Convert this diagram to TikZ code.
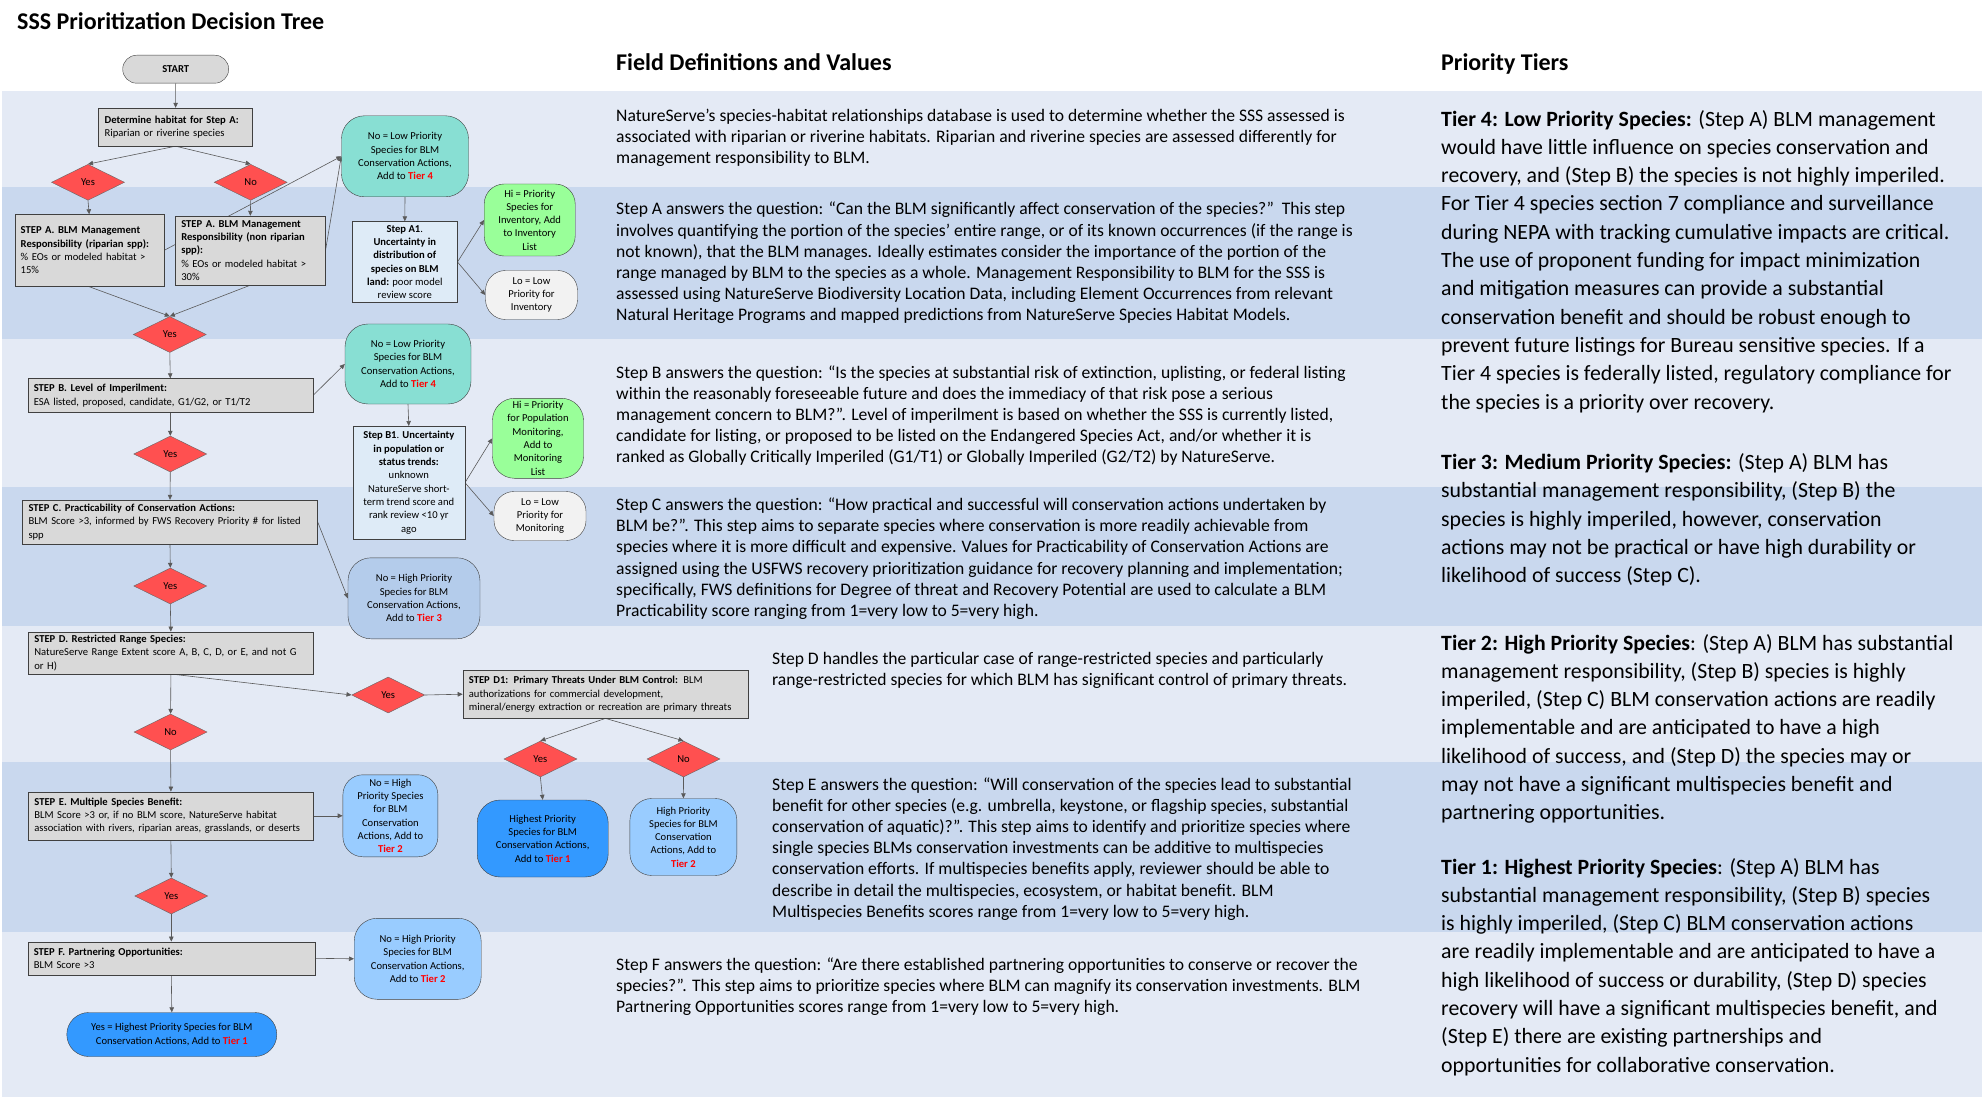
\documentclass[tikz,border=0pt]{standalone}
\usepackage{fontspec}
\setmainfont{Carlito}
\usetikzlibrary{positioning, shapes.geometric, arrows.meta, backgrounds}

\definecolor{bandlt}{HTML}{E4EAF5}
\definecolor{banddk}{HTML}{C9D8EE}
\definecolor{boxgray}{HTML}{D9D9D9}
\definecolor{edgegray}{HTML}{404040}
\definecolor{linegray}{HTML}{5A5A5A}
\definecolor{diared}{HTML}{FF5050}
\definecolor{lowteal}{HTML}{88DFD3}
\definecolor{uncblue}{HTML}{DEEBF7}
\definecolor{higreen}{HTML}{99FF99}
\definecolor{logray}{HTML}{F2F2F2}
\definecolor{medblue}{HTML}{B4CCEB}
\definecolor{highblue}{HTML}{99CCFF}
\definecolor{topblue}{HTML}{3399FF}
\definecolor{tierred}{HTML}{FF0000}

\newcommand{\tiertag}[1]{\textcolor{tierred}{\textbf{#1}}}

\begin{document}
\begin{tikzpicture}[x=1pt, y=-1pt,
  font=\fontsize{10.6}{13.3}\selectfont,
  stepbox/.style={draw=edgegray, fill=boxgray, align=left, inner xsep=6pt, inner ysep=2pt},
  uncbox/.style={draw=edgegray, fill=uncblue, align=center, inner sep=1pt},
  outc/.style={draw=edgegray, rounded corners=20pt, align=center, inner xsep=2pt, inner ysep=0pt},
  dia/.style={diamond, draw=edgegray!80, fill=diared, minimum width=73pt, minimum height=36pt, inner sep=0pt},
  fdtext/.style={anchor=base west, inner sep=0pt, align=left, font=\fontsize{17.6}{21.2}\selectfont},
  tiertext/.style={anchor=base west, inner sep=0pt, align=left, font=\fontsize{21.8}{28.3}\selectfont},
  head/.style={anchor=base west, inner sep=0pt, font=\fontsize{24}{28}\selectfont\bfseries},
  ar/.style={-{Triangle[length=5pt, width=4.5pt]}, draw=linegray, line width=0.6pt}
]
\useasboundingbox (0,0) rectangle (1982,1099);

% Bands (alternating light / dark rows)
\begin{scope}[on background layer]
\fill[white] (0,0) rectangle (1982,1099);
\foreach \ya/\yb/\bc in {91/187/bandlt, 187/339/banddk, 339/487/bandlt, 487/626/banddk,
                         626/762/bandlt, 762/932/banddk, 932/1097/bandlt}
  \fill[\bc] (2,\ya) rectangle (1982,\yb);
\end{scope}

% Column headings
\node[head] (title)  at (17,29.3) {SSS Prioritization Decision Tree};
\node[head] (fdhead) at (616,71)  {Field Definitions and Values};
\node[head] (pthead) at (1441,71) {Priority Tiers};

% Step A
\node[outc, fill=boxgray, rounded corners=14pt, minimum width=106pt, minimum height=28pt, font=\fontsize{10.6}{13.3}\selectfont\bfseries] (start) at (175.7,69.2) {START};
\node[stepbox, text width=142pt, minimum height=38pt] (det) at (175.6,127) {\textbf{Determine habitat for Step A:}\\Riparian or riverine species};
\node[dia] (dRip) at (88,182.3)  {Yes};
\node[dia] (dNon) at (250.7,182.3) {No};
\node[stepbox, text width=137pt, minimum height=72pt] (sAr) at (89.2,250.5) {\textbf{STEP A. BLM Management}\\\textbf{Responsibility (riparian spp):}\\\% EOs or modeled habitat >\\15\%};
\node[stepbox, text width=138pt, minimum height=69pt] (sAn) at (250.3,250.5) {\textbf{STEP A. BLM Management}\\\textbf{Responsibility (non riparian}\\\textbf{spp):}\\\% EOs or modeled habitat >\\30\%};
\node[outc, fill=lowteal, minimum width=127pt, minimum height=81pt, rounded corners=23pt] (t4a) at (405,156.3) {No = Low Priority\\Species for BLM\\Conservation Actions,\\Add to \tiertag{Tier 4}};
\node[uncbox, minimum width=105pt, minimum height=81pt] (sA1) at (404.8,262) {\textbf{Step A1}.\\\textbf{Uncertainty in}\\\textbf{distribution  of}\\\textbf{species on BLM}\\\textbf{land:} poor model\\review score};
\node[outc, fill=higreen, minimum width=91pt, minimum height=72pt] (hiInv) at (529.7,220) {Hi = Priority\\Species for\\Inventory, Add\\to Inventory\\List};
\node[outc, fill=logray, minimum width=92pt, minimum height=49pt] (loInv) at (531.5,295) {Lo = Low\\Priority for\\Inventory};

% Step B
\node[dia] (dA) at (169.8,334.5) {Yes};
\node[stepbox, text width=273pt, minimum height=34pt] (sB) at (170.3,395.5) {\textbf{STEP B. Level of Imperilment:}\\ESA listed, proposed, candidate, G1/G2, or T1/T2};
\node[outc, fill=lowteal, minimum width=126pt, minimum height=80pt, rounded corners=23pt] (t4b) at (408,364) {No = Low Priority\\Species for BLM\\Conservation Actions,\\Add to \tiertag{Tier 4}};
\node[uncbox, minimum width=112pt, minimum height=113pt] (sB1) at (408.8,482.7) {\textbf{Step B1}. \textbf{Uncertainty}\\\textbf{in population  or}\\\textbf{status trends:}\\unknown\\NatureServe short-\\term trend score and\\rank review <10 yr\\ago};
\node[outc, fill=higreen, minimum width=91pt, minimum height=80pt, rounded corners=22pt] (hiMon) at (538,438.3) {Hi = Priority\\for Population\\Monitoring,\\Add to\\Monitoring\\List};
\node[outc, fill=logray, minimum width=92pt, minimum height=49pt] (loMon) at (540,516) {Lo = Low\\Priority for\\Monitoring};

% Step C
\node[dia] (dB) at (170.3,454) {Yes};
\node[stepbox, text width=283pt, minimum height=44pt] (sC) at (170,522) {\textbf{STEP C. Practicability  of Conservation Actions:}\\BLM Score >3, informed by FWS Recovery Priority \# for listed\\spp};
\node[outc, fill=medblue, minimum width=132pt, minimum height=81pt, rounded corners=23pt] (t3) at (414,598.3) {No = High Priority\\Species for BLM\\Conservation Actions,\\Add to \tiertag{Tier 3}};

% Step D
\node[dia] (dC) at (170.3,586) {Yes};
\node[stepbox, text width=273pt, minimum height=42pt] (sD) at (170.9,652.8) {\textbf{STEP D. Restricted Range Species:}\\NatureServe Range Extent score A, B, C, D, or E, and not G\\or H)};
\node[dia] (dDyes) at (388.2,695) {Yes};
\node[stepbox, text width=273pt, minimum height=48pt] (sD1) at (605.4,694.2) {\textbf{STEP D1: Primary Threats Under BLM Control:}  BLM\\authorizations for commercial development,\\mineral/energy extraction or recreation are primary threats};
\node[dia] (dDno) at (170.6,732) {No};
\node[dia] (dD1yes) at (540.4,759) {Yes};
\node[dia] (dD1no)  at (683.5,759) {No};
\node[outc, fill=topblue, minimum width=131pt, minimum height=77pt, rounded corners=23pt] (hst) at (542.7,838.5) {Highest Priority\\Species  for BLM\\Conservation Actions,\\Add to \tiertag{Tier 1}};
\node[outc, fill=highblue, minimum width=107pt, minimum height=77pt, rounded corners=22pt] (hpr) at (683.4,837) {High Priority\\Species for BLM\\Conservation\\Actions, Add to\\\tiertag{Tier 2}};

% Step E
\node[stepbox, text width=273pt, minimum height=48pt] (sE) at (170.9,815.8) {\textbf{STEP E. Multiple Species  Benefit:}\\BLM Score >3 or, if no BLM score, NatureServe habitat\\association with rivers, riparian areas, grasslands, or deserts};
\node[outc, fill=highblue, minimum width=95pt, minimum height=82pt] (t2e) at (390.4,815.8) {No = High\\Priority Species\\for BLM\\Conservation\\Actions, Add to\\\tiertag{Tier 2}};

% Step F
\node[dia] (dE) at (171.3,896) {Yes};
\node[stepbox, text width=275pt, minimum height=33pt] (sF) at (171.3,958.3) {\textbf{STEP F. Partnering Opportunities:}\\BLM Score >3};
\node[outc, fill=highblue, minimum width=127pt, minimum height=81pt, rounded corners=23pt] (t2f) at (417.7,958.8) {No = High Priority\\Species for BLM\\Conservation Actions,\\Add to \tiertag{Tier 2}};
\node[outc, fill=topblue, minimum width=210pt, minimum height=44pt, rounded corners=22pt] (t1) at (171.8,1034.5) {Yes = Highest Priority Species  for BLM\\Conservation Actions, Add to \tiertag{Tier 1}};

% Connectors (behind the boxes)
\begin{scope}[on background layer]
\draw[ar] (start.south) -- (det.north);
\draw[ar] (det.south) -- (dRip.north);
\draw[ar] (det.south) -- (dNon.north);
\draw[ar] (dRip.south) -- (sAr.north);
\draw[ar] (dNon.south) -- (sAn.north);
\draw[ar] (sAr.east) -- (t4a.west);
\draw[ar] (sAn.east) -- (t4a.west);
\draw[ar] (sAr.south) -- (dA.north);
\draw[ar] (sAn.south) -- (dA.north);
\draw[ar] (t4a.south) -- (sA1.north);
\draw[ar] (sA1.east) -- (hiInv.west);
\draw[ar] (sA1.east) -- (loInv.west);
\draw[ar] (dA.south) -- (sB.north);
\draw[ar] (sB.east) -- (t4b.west);
\draw[ar] (t4b.south) -- (sB1.north);
\draw[ar] (sB1.east) -- (hiMon.west);
\draw[ar] (sB1.east) -- (loMon.west);
\draw[ar] (sB.south) -- (dB.north);
\draw[ar] (dB.south) -- (sC.north);
\draw[ar] (sC.east) -- (t3.west);
\draw[ar] (sC.south) -- (dC.north);
\draw[ar] (dC.south) -- (sD.north);
\draw[ar] (sD.south) -- (dDno.north);
\draw[ar] (sD.south) -- (dDyes.west);
\draw[ar] (dDyes.east) -- (sD1.west);
\draw[ar] (sD1.south) -- (dD1yes.north);
\draw[ar] (sD1.south) -- (dD1no.north);
\draw[ar] (dD1yes.south) -- (hst.north);
\draw[ar] (dD1no.south) -- (hpr.north);
\draw[ar] (dDno.south) -- (sE.north);
\draw[ar] (sE.east) -- (t2e.west);
\draw[ar] (sE.south) -- (dE.north);
\draw[ar] (dE.south) -- (sF.north);
\draw[ar] (sF.east) -- (t2f.west);
\draw[ar] (sF.south) -- (t1.north);
\end{scope}

% Field definitions (anchored at the baseline of the last line)
\node[fdtext] (fd0) at (616,163.9) {NatureServe’s species-habitat relationships database is used to determine whether the SSS assessed is\\associated with riparian or riverine habitats. Riparian and riverine species are assessed differently for\\management responsibility to BLM.};
\node[fdtext] (fdA) at (616,321) {Step A answers the question: “Can the BLM significantly affect conservation of the species?”\ \ This step\\involves quantifying the portion of the species’ entire range, or of its known occurrences (if the range is\\not known), that the BLM manages. Ideally estimates consider the importance of the portion of the\\range managed by BLM to the species as a whole. Management Responsibility to BLM for the SSS is\\assessed using NatureServe Biodiversity Location Data, including Element Occurrences from relevant\\Natural Heritage Programs and mapped predictions from NatureServe Species Habitat Models.};
\node[fdtext] (fdB) at (616,462.8) {Step B answers the question: “Is the species at substantial risk of extinction, uplisting, or federal listing\\within the reasonably foreseeable future and does the immediacy of that risk pose a serious\\management concern to BLM?”. Level of imperilment is based on whether the SSS is currently listed,\\candidate for listing, or proposed to be listed on the Endangered Species Act, and/or whether it is\\ranked as Globally Critically Imperiled (G1/T1) or Globally Imperiled (G2/T2) by NatureServe.};
\node[fdtext] (fdC) at (616,616.5) {Step C answers the question: “How practical and successful will conservation actions undertaken by\\BLM be?”. This step aims to separate species where conservation is more readily achievable from\\species where it is more difficult and expensive. Values for Practicability of Conservation Actions are\\assigned using the USFWS recovery prioritization guidance for recovery planning and implementation;\\specifically, FWS definitions for Degree of threat and Recovery Potential are used to calculate a BLM\\Practicability score ranging from 1=very low to 5=very high.};
\node[fdtext] (fdD) at (772,685.2) {Step D handles the particular case of range-restricted species and particularly\\range-restricted species for which BLM has significant control of primary threats.};
\node[fdtext] (fdE) at (772,917.2) {Step E answers the question: “Will conservation of the species lead to substantial\\benefit for other species (e.g. umbrella, keystone, or flagship species, substantial\\conservation of aquatic)?”. This step aims to identify and prioritize species where\\single species BLMs conservation investments can be additive to multispecies\\conservation efforts. If multispecies benefits apply, reviewer should be able to\\describe in detail the multispecies, ecosystem, or habitat benefit. BLM\\Multispecies Benefits scores range from 1=very low to 5=very high.};
\node[fdtext] (fdF) at (616,1012.4) {Step F answers the question: “Are there established partnering opportunities to conserve or recover the\\species?”. This step aims to prioritize species where BLM can magnify its conservation investments. BLM\\Partnering Opportunities scores range from 1=very low to 5=very high.};

% Priority tiers (anchored at the baseline of the last line)
\node[tiertext] (pt4) at (1441,409) {\textbf{Tier 4: Low Priority Species:} (Step A) BLM management\\would have little influence on species conservation and\\recovery, and (Step B) the species is not highly imperiled.\\For Tier 4 species section 7 compliance and surveillance\\during NEPA with tracking cumulative impacts are critical.\\The use of proponent funding for impact minimization\\and mitigation measures can provide a substantial\\conservation benefit and should be robust enough to\\prevent future listings for Bureau sensitive species. If a\\Tier 4 species is federally listed, regulatory compliance for\\the species is a priority over recovery.};
\node[tiertext] (pt3) at (1441,582.7) {\textbf{Tier 3: Medium Priority Species:} (Step A) BLM has\\substantial management responsibility, (Step B) the\\species is highly imperiled, however, conservation\\actions may not be practical or have high durability or\\likelihood of success (Step C).};
\node[tiertext] (pt2) at (1441,819.8) {\textbf{Tier 2: High Priority Species}: (Step A) BLM has substantial\\management responsibility, (Step B) species is highly\\imperiled, (Step C) BLM conservation actions are readily\\implementable and are anticipated to have a high\\likelihood of success, and (Step D) the species may or\\may not have a significant multispecies benefit and\\partnering opportunities.};
\node[tiertext] (pt1) at (1441,1072.1) {\textbf{Tier 1: Highest Priority Species}: (Step A) BLM has\\substantial management responsibility, (Step B) species\\is highly imperiled, (Step C) BLM conservation actions\\are readily implementable and are anticipated to have a\\high likelihood of success or durability, (Step D) species\\recovery will have a significant multispecies benefit, and\\(Step E) there are existing partnerships and\\opportunities for collaborative conservation.};

\end{tikzpicture}
\end{document}
